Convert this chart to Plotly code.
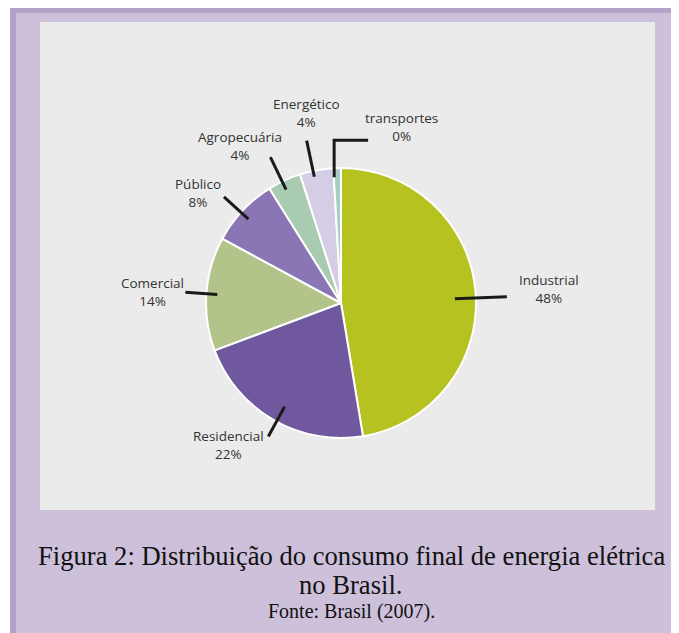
import math
import plotly.graph_objects as go

# sectors in drawing order (clockwise from 12 o'clock)
sectors = ["Industrial", "Residencial", "Comercial", "Público", "Agropecuária", "Energético", "transportes"]
shares = [47.4, 21.9, 13.6, 8.2, 4.0, 4.0, 0.9]
pct_labels = ["48%", "22%", "14%", "8%", "4%", "4%", "0%"]
colors = ["#b6c21f", "#6f589e", "#b2c48a", "#8a76b4", "#a9cbb1", "#d5cde6", "#a6cfc4"]

W, H = 679, 633
OFF = 8  # page body margin
CX, CY, R = 341, 303, 135

# leader line radii, angle nudges (deg) and label offsets (pixels) per slice
leader_r = [(114, 166), (118, 152), (124, 156), (125, 158), (126, 162), (129, 166), (126, 163)]
nudge = [2.5, -1.5, 0, -1, -1, -1.5, -1.5]
label_off = [(42, -8), (-40, 8), (-33, 0), (-26, -4), (-30, -11), (0, -28), (33, -13)]


def px(x, y):
    return (x - OFF) / W, 1 - (y - OFF) / H


fig = go.Figure()
fig.add_trace(
    go.Pie(
        labels=sectors,
        values=shares,
        sort=False,
        direction="clockwise",
        rotation=0,
        textinfo="none",
        hoverinfo="label+percent",
        marker=dict(colors=colors, line=dict(color="white", width=2)),
        domain=dict(
            x=[px(CX - R, 0)[0], px(CX + R, 0)[0]],
            y=[px(0, CY + R)[1], px(0, CY - R)[1]],
        ),
        showlegend=False,
    )
)

shapes = [
    dict(type="rect", xref="paper", yref="paper", x0=px(10, 0)[0], x1=1, y0=0, y1=1,
         fillcolor="#b2a3c9", line=dict(width=0), layer="below"),
    dict(type="rect", xref="paper", yref="paper", x0=px(16, 0)[0], x1=1, y0=0, y1=px(0, 13)[1],
         fillcolor="#cdc0da", line=dict(width=0), layer="below"),
    dict(type="rect", xref="paper", yref="paper", x0=px(40, 0)[0], x1=px(655, 0)[0],
         y0=px(0, 510)[1], y1=px(0, 22)[1],
         fillcolor="#eaebea", line=dict(width=0), layer="below"),
]
annotations = []

total = sum(shares)
acc = 0
for i, v in enumerate(shares):
    mid = math.radians((acc + v / 2) / total * 360 + nudge[i])
    acc += v
    r_in, r_out = leader_r[i]
    x0, y0 = CX + r_in * math.sin(mid), CY - r_in * math.cos(mid)
    x1, y1 = CX + r_out * math.sin(mid), CY - r_out * math.cos(mid)
    if sectors[i] == "transportes":
        # elbow leader for the tiny slice
        xa, ya = px(x0, y0)
        xb, yb = px(x0, y1)
        xc, yc = px(x0 + 34, y1)
        shapes.append(dict(type="path", xref="paper", yref="paper",
                           path=f"M {xa} {ya} L {xb} {yb} L {xc} {yc}",
                           line=dict(color="#1a1a1a", width=3)))
        x1 = x0 + 34
    else:
        xa, ya = px(x0, y0)
        xb, yb = px(x1, y1)
        shapes.append(dict(type="line", xref="paper", yref="paper", x0=xa, y0=ya, x1=xb, y1=yb,
                           line=dict(color="#1a1a1a", width=3)))
    dx, dy = label_off[i]
    lx, ly = px(x1 + dx, y1 + dy)
    annotations.append(dict(
        x=lx, y=ly, xref="paper", yref="paper", showarrow=False,
        text=f"{sectors[i]}<br>{pct_labels[i]}", align="center",
        xanchor="center", yanchor="middle",
        font=dict(family="Open Sans", size=13.5, color="#333333"),
    ))

caption = [
    ("Figura 2: Distribuição do consumo final de energia elétrica", 351, 556, 26.6),
    ("no Brasil.", 350, 585, 26.6),
    ("Fonte: Brasil (2007).", 351, 611, 20),
]
for text, cx, cy, size in caption:
    x, y = px(cx, cy)
    annotations.append(dict(
        x=x, y=y, xref="paper", yref="paper", showarrow=False, text=text,
        xanchor="center", yanchor="middle",
        font=dict(family="Liberation Serif", size=size, color="#111111"),
    ))

fig.update_layout(
    width=W,
    height=H,
    margin=dict(l=0, r=0, t=0, b=0),
    paper_bgcolor="white",
    plot_bgcolor="white",
    shapes=shapes,
    annotations=annotations,
)

fig.write_html("out.html")
